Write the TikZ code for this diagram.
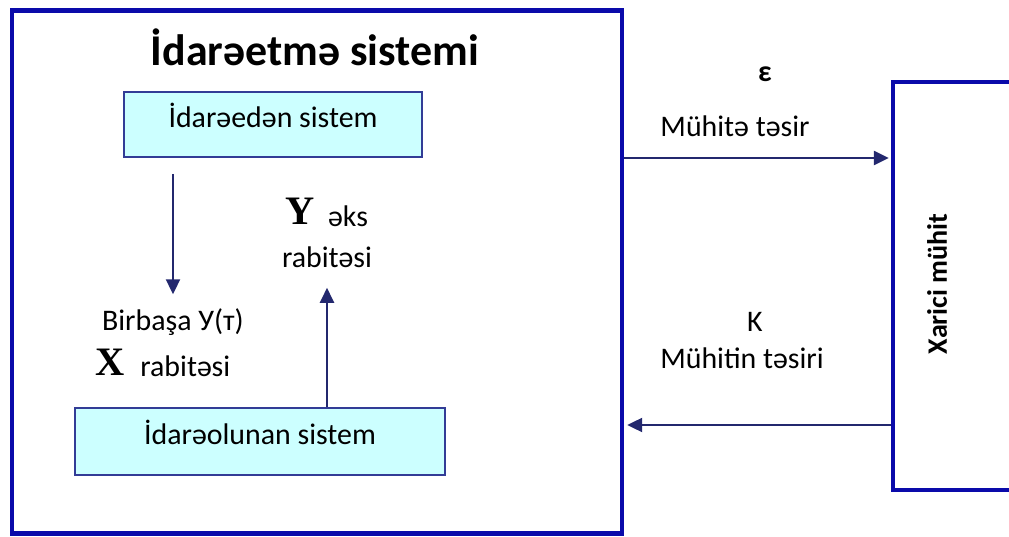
\documentclass[tikz,border=0pt]{standalone}
\usepackage{fontspec}
\setmainfont{Carlito}
\newfontfamily\seriffont{Liberation Serif}
\usetikzlibrary{arrows.meta,calc}
\newlength\px
\setlength\px{0.02cm}
\definecolor{frameblue}{RGB}{10,10,170}
\definecolor{navy}{RGB}{35,40,110}
\definecolor{boxcyan}{RGB}{204,255,255}
\definecolor{boxline}{RGB}{50,60,150}
\tikzset{
	framebox/.style={draw=frameblue, line width=2.6pt},
	unitbox/.style={draw=boxline, line width=1.1pt, fill=boxcyan, font=\fontsize{17}{20}\selectfont, text depth=10pt},
	lbl/.style={font=\fontsize{17}{20}\selectfont, inner sep=0pt},
	symb/.style={font=\seriffont\bfseries\fontsize{23}{24}\selectfont, inner sep=0pt},
	flow/.style={draw=navy, line width=1.2pt, -{Triangle[length=8.5pt,width=8pt]}}
}

\begin{document}
\begin{tikzpicture}[x=\px, y=-\px]
			\useasboundingbox (0,0) rectangle (1009,537);
			\clip (0,0) rectangle (1009,537);
			%%%%% START %%%%%
			\node[framebox, minimum width=610\px, minimum height=523\px] (ctrl) at (317,272) {};
			\node[font=\bfseries\fontsize{25}{30}\selectfont] (title) at (315,47) {İdarəetmə sistemi};
			
			\node[unitbox, minimum width=298\px, minimum height=65\px] (ruler) at (273,124.5) {İdarəedən sistem};
			\node[unitbox, minimum width=370\px, minimum height=67\px] (plant) at (260,441.5) {İdarəolunan sistem};
			
			\node[lbl] (direct) at (173,322) {Birbaşa У(т)};
			\node[symb] (xsym) at (110,362) {X};
			\node[lbl, anchor=west] (xlink) at (140,366) {rabitəsi};
			\node[symb] (ysym) at (300,211) {Y};
			\node[lbl] (yaks) at (348,216) {əks};
			\node[lbl] (ylink) at (327,257) {rabitəsi};
			
			\draw[flow] ($(ruler.south -| direct)+(0,16)$) -- ($(direct.north)+(0,-14)$);
			\draw[flow] (plant.north -| ylink) -- ($(ylink.south)+(0,20)$);
			
			\node[framebox, minimum width=300\px, minimum height=408\px] (env) at (1043,286) {};
			\node[font=\bfseries\fontsize{16}{19}\selectfont, rotate=90] (envtxt) at (937,284) {Xarici mühit};
			
			\coordinate (fwd) at (0,158);
			\coordinate (back) at (0,425);
			\draw[flow, shorten >=1.1pt] (ctrl.east |- fwd) -- (env.west |- fwd);
			\draw[flow, shorten >=1.7pt] (env.west |- back) -- (ctrl.east |- back);
			
			\node[lbl, font=\bfseries\fontsize{17}{20}\selectfont] (eps) at (765,74) {ε};
			\node[lbl] (fwdtxt) at (735,126) {Mühitə təsir};
			\node[lbl] (k) at (755,322) {K};
			\node[lbl] (backtxt) at (742,358) {Mühitin təsiri};
			%%%%% END %%%%%
		\end{tikzpicture}
\end{document}
